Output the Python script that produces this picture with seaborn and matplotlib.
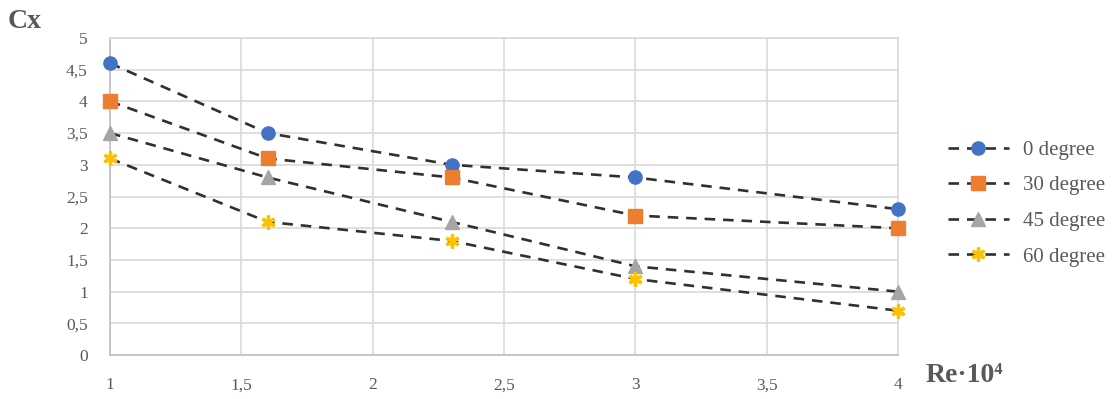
import matplotlib
matplotlib.use("Agg")
import matplotlib.pyplot as plt
from matplotlib.lines import Line2D
from matplotlib.ticker import FuncFormatter, MultipleLocator
import seaborn as sns
import pandas as pd

# Reynolds number (x 10^4) and drag coefficient for each inclination angle
re_values = [1.0, 1.6, 2.3, 3.0, 4.0]
cx_0deg = [4.6, 3.5, 3.0, 2.8, 2.3]
cx_30deg = [4.0, 3.1, 2.8, 2.2, 2.0]
cx_45deg = [3.5, 2.8, 2.1, 1.4, 1.0]
cx_60deg = [3.1, 2.1, 1.8, 1.2, 0.7]
series_names = ["0 degree", "30 degree", "45 degree", "60 degree"]

frames = []
for name, vals in zip(series_names, [cx_0deg, cx_30deg, cx_45deg, cx_60deg]):
    frames.append(pd.DataFrame({"Re": re_values, "Cx": vals, "series": name}))
df = pd.concat(frames, ignore_index=True)

colors = ["#4472C4", "#ED7D31", "#A5A5A5", "#FFC000"]
markers = ["o", "s", "^", (6, 2, 0)]
marker_sizes = [9.5, 9.5, 9.5, 10]
palette = dict(zip(series_names, colors))

sns.set_theme(style="white")
plt.rcParams["font.family"] = ["Liberation Serif", "DejaVu Serif"]

fig = plt.figure(figsize=(11.17, 3.99), dpi=100)
ax = fig.add_axes([0.0985, 0.110, 0.7055, 0.795])

grid_c = "#D9D9D9"
text_c = "#595959"
line_c = "#303030"
dash = (0, (4.0, 3.0))

for name, mk, ms, col in zip(series_names, markers, marker_sizes, colors):
    sub = df[df["series"] == name]
    sns.lineplot(data=sub, x="Re", y="Cx", ax=ax, color=line_c,
                 linestyle=dash, linewidth=1.9, zorder=2, legend=False)
    ax.plot(sub["Re"], sub["Cx"], linestyle="none", marker=mk, markersize=ms,
            markerfacecolor=col, markeredgecolor=col,
            markeredgewidth=2.4 if mk == (6, 2, 0) else 1,
            zorder=3, clip_on=False)

ax.set_xlim(1, 4)
ax.set_ylim(0, 5)
ax.xaxis.set_major_locator(MultipleLocator(0.5))
ax.yaxis.set_major_locator(MultipleLocator(0.5))
fmt = FuncFormatter(lambda v, p: f"{v:g}".replace(".", ","))
ax.xaxis.set_major_formatter(fmt)
ax.yaxis.set_major_formatter(fmt)
ax.grid(True, color=grid_c, linewidth=1.2)
ax.set_axisbelow(True)
for sp in ax.spines.values():
    sp.set_color(grid_c)
    sp.set_linewidth(1.2)
ax.spines["left"].set_color("#BFBFBF")
ax.spines["bottom"].set_color("#BFBFBF")
ax.tick_params(axis="both", length=0, labelsize=12.5, labelcolor=text_c)
ax.tick_params(axis="x", pad=16)
ax.tick_params(axis="y", pad=16)
ax.set_xlabel("")
ax.set_ylabel("")

fig.text(0.007, 0.945, "Cx", fontsize=20, fontweight="bold", color=text_c,
         ha="left", va="center")
fig.text(0.829, 0.058, "Re·10⁴", fontsize=20, fontweight="bold", color=text_c,
         ha="left", va="center")

handles = [
    Line2D([0], [0], color=line_c, linestyle=dash, linewidth=1.9,
           marker=mk, markersize=ms, markerfacecolor=col, markeredgecolor=col,
           markeredgewidth=2.4 if mk == (6, 2, 0) else 1)
    for mk, ms, col in zip(markers, marker_sizes, colors)
]
fig.legend(handles, series_names, loc="center left",
           bbox_to_anchor=(0.8415, 0.49), frameon=False, fontsize=15,
           labelcolor=text_c, handlelength=2.9, handletextpad=0.7,
           labelspacing=0.77, borderaxespad=0.0)

fig.savefig("out.png", dpi=100, facecolor="white")
